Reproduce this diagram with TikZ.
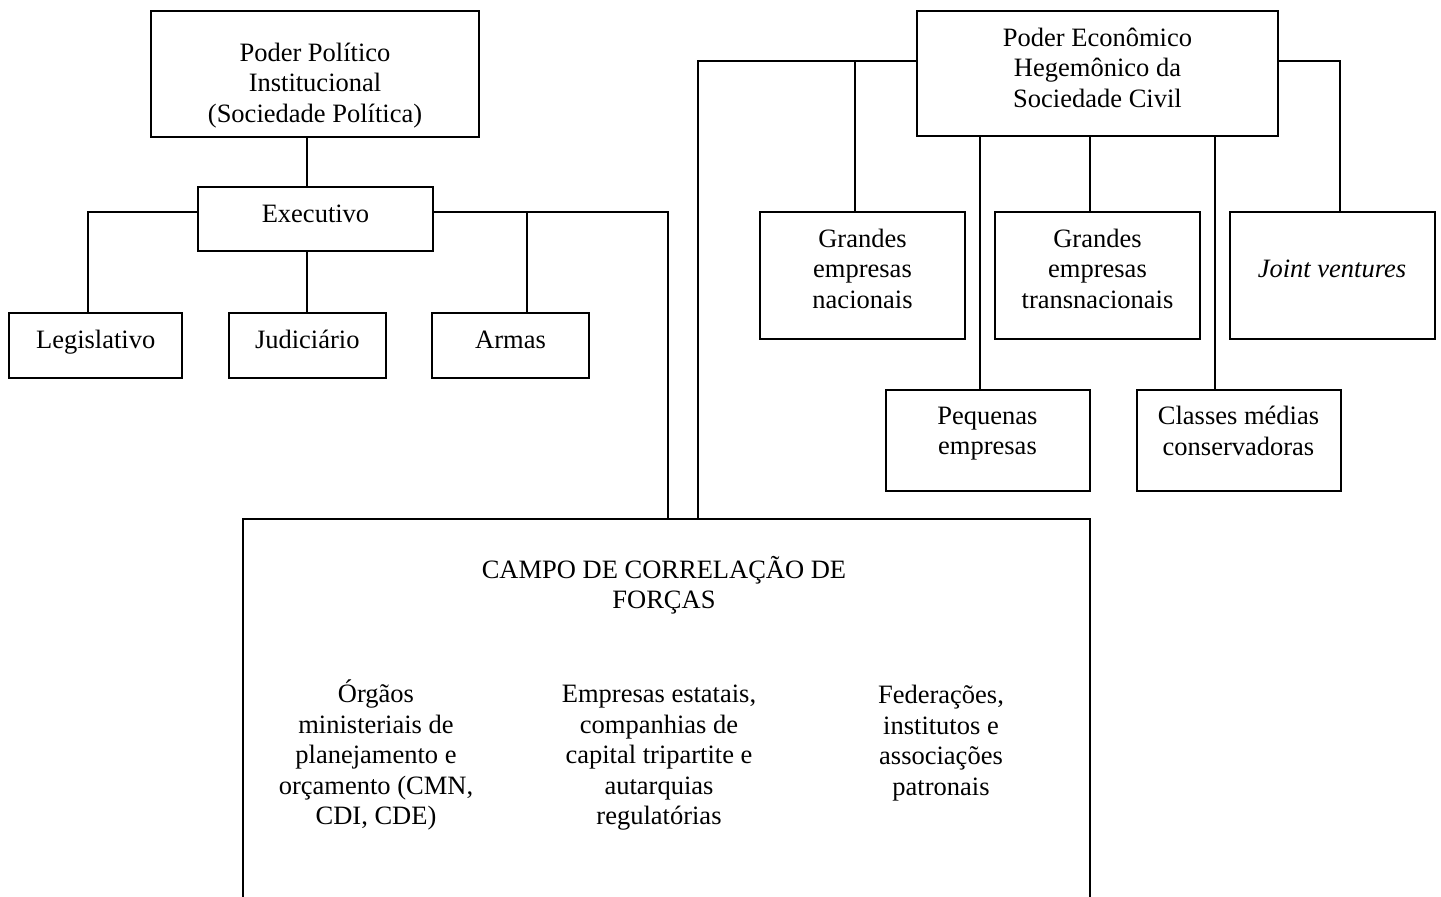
\documentclass[tikz,border=0pt]{standalone}
\usepackage{fontspec}
\setmainfont{Liberation Serif}
\tikzstyle{headbox} = [rectangle, 
minimum height=63pt, 
inner sep=0pt,
text depth=6pt,
align=center, 
draw=black, line width=1pt]
\tikzstyle{smallbox} = [rectangle, 
minimum width=78.5pt, 
minimum height=32.5pt, 
inner sep=0pt,
text height=3pt, text depth=0pt,
align=center, 
draw=black, line width=1pt]
\tikzstyle{firmbox} = [rectangle, 
minimum width=102.5pt, 
minimum height=63.5pt, 
inner sep=0pt,
text depth=7pt,
align=center, 
draw=black, line width=1pt]
\tikzstyle{lowbox} = [rectangle, 
minimum width=102pt, 
minimum height=50.5pt, 
inner sep=0pt,
text depth=9.75pt,
align=center, 
draw=black, line width=1pt]
\tikzstyle{fieldbox} = [rectangle, 
minimum width=423.5pt, 
minimum height=210pt, 
draw=black, line width=1pt]
\tikzstyle{fieldtext} = [align=center, inner sep=0pt]
\tikzstyle{link} = [line width=1pt]

\begin{document}
\begin{tikzpicture}[x=0.5pt, y=-0.5pt, font=\fontsize{13.25pt}{15.25pt}\selectfont]

\useasboundingbox (0,0) rectangle (1441,896);
\clip (0,0) rectangle (1441,896);

% political side
\node (pol) [headbox, minimum width=164pt, text height=54pt] at (315,74) {Poder Político\\Institucional\\(Sociedade Política)};

\node (exe) [smallbox, minimum width=117.5pt, minimum height=32pt] at (315.5,219) {Executivo};

\node (leg) [smallbox, minimum width=86.5pt] at (95.7,345.5) {Legislativo};

\node (jud) [smallbox] at (307.3,345.5) {Judiciário};

\node (arm) [smallbox] at (510.5,345.5) {Armas};

% economic side
\node (eco) [headbox, minimum width=180.5pt, minimum height=62.5pt] at (1097.5,73.5) {Poder Econômico\\Hegemônico da\\Sociedade Civil};

\node (gnac) [firmbox] at (862.5,275.5) {Grandes\\empresas\\nacionais};

\node (gtra) [firmbox] at (1097.5,275.5) {Grandes\\empresas\\transnacionais};

\node (joint) [firmbox] at (1332,275.5) {\textit{Joint ventures}};

\node (peq) [lowbox] at (987.5,440.5) {Pequenas\\empresas};

\node (cla) [lowbox] at (1238.5,440.5) {Classes médias\\conservadoras};

% field
\node (campo) [fieldbox] at (666.5,729) {};

\node (title) [fieldtext] at (664,585) {CAMPO DE CORRELAÇÃO DE\\FORÇAS};

\node (orgaos) [fieldtext] at (376,755) {Órgãos\\ministeriais de\\planejamento e\\orçamento (CMN,\\CDI, CDE)};

\node (estatais) [fieldtext] at (659,758) {Empresas estatais,\\companhias de\\capital tripartite e\\autarquias\\regulatórias};

\node (patronais) [fieldtext] at (941,743) {Federações,\\institutos e\\associações\\patronais};


\draw [link] (pol.south -| jud) -- (exe.north -| jud);
\draw [link] (exe.south -| jud) -- (jud.north);
\draw [link] ([yshift=3.5pt]exe.west) -| ([xshift=-4pt]leg.north);
\draw [link] ([yshift=3.5pt]exe.east) -| ([xshift=0.75pt]campo.north);
\draw [link] ([xshift=8.25pt]arm.north) -- ([xshift=8.25pt, yshift=3.5pt]arm.north |- exe.east);

\draw [link] ([yshift=6.25pt]eco.west) -| ([xshift=15.75pt]campo.north);
\draw [link] ([xshift=-3.75pt]gnac.north) |- ([yshift=6.25pt]eco.west);
\draw [link] ([yshift=6.25pt]eco.east) -| ([xshift=4pt]joint.north);
\draw [link] ([xshift=-4pt]eco.south) -- ([xshift=-4pt]gtra.north);
\draw [link] ([xshift=-58.75pt]eco.south) -- ([xshift=-3.75pt]peq.north);
\draw [link] ([xshift=58.75pt]eco.south) -- ([xshift=-11.75pt]cla.north);

\end{tikzpicture}
\end{document}
